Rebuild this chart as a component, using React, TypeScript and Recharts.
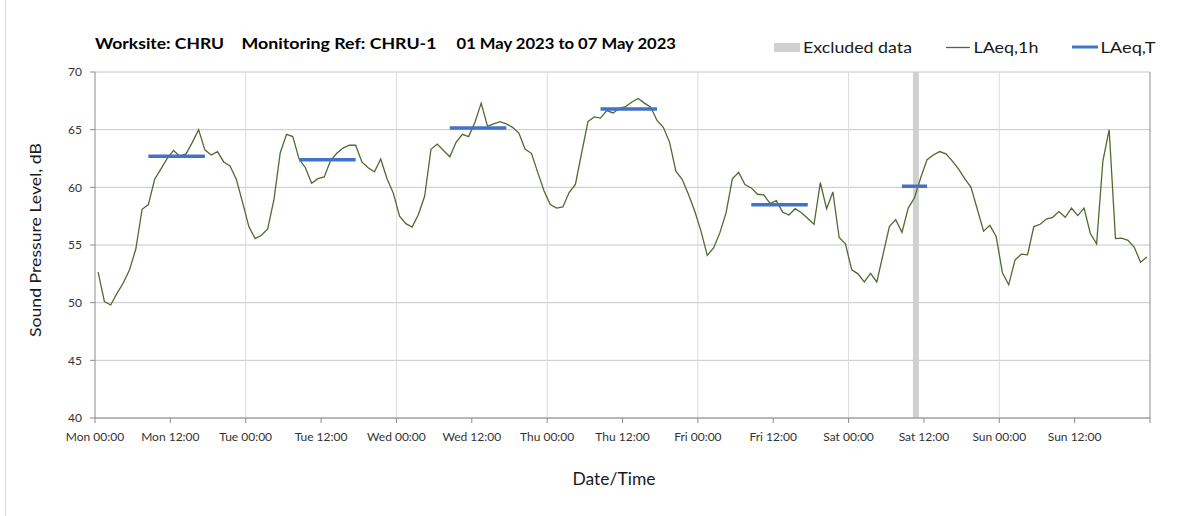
import React from 'react';
import {
  LineChart,
  Line,
  XAxis,
  YAxis,
  CartesianGrid,
  ReferenceLine,
  ReferenceArea,
} from 'recharts';

// Hourly LAeq,1h values, Mon 00:00 (hour 0) to Sun 23:00 (hour 167)
const laeq1h: number[] = [
  52.65, 50.1, 49.8, 50.8, 51.7, 52.85, 54.65, 58.1, 58.5, 60.7, 61.6, 62.5,
  63.2, 62.7, 62.9, 63.9, 65.0, 63.25, 62.8, 63.1, 62.2, 61.85, 60.7, 58.7,
  56.6, 55.55, 55.85, 56.4, 58.95, 63.0, 64.6, 64.4, 62.45, 61.7, 60.35, 60.75,
  60.9, 62.3, 62.95, 63.4, 63.65, 63.65, 62.2, 61.7, 61.35, 62.45, 60.75, 59.5,
  57.5, 56.85, 56.55, 57.65, 59.25, 63.3, 63.75, 63.2, 62.65, 63.9, 64.6, 64.4,
  65.65, 67.3, 65.3, 65.5, 65.7, 65.5, 65.2, 64.7, 63.3, 62.95, 61.3, 59.7,
  58.5, 58.2, 58.3, 59.55, 60.25, 63.0, 65.7, 66.1, 66.0, 66.65, 66.45, 66.85,
  67.0, 67.4, 67.7, 67.3, 66.95, 65.8, 65.2, 63.9, 61.4, 60.7, 59.4, 57.95,
  56.2, 54.1, 54.75, 56.05, 57.8, 60.75, 61.3, 60.25, 59.95, 59.4, 59.35, 58.6,
  58.85, 57.85, 57.6, 58.15, 57.8, 57.3, 56.8, 60.4, 58.15, 59.6, 55.65, 55.1,
  52.85, 52.5, 51.8, 52.55, 51.8, 54.2, 56.6, 57.2, 56.1, 58.2, 59.1, 60.85,
  62.4, 62.8, 63.1, 62.9, 62.3, 61.6, 60.75, 60.0, 58.1, 56.2, 56.7, 55.75,
  52.6, 51.55, 53.7, 54.2, 54.15, 56.6, 56.8, 57.25, 57.4, 57.9, 57.4, 58.2,
  57.55, 58.2, 56.0, 55.1, 62.3, 65.0, 55.55, 55.6, 55.4, 54.8, 53.5, 53.95,
];

// LAeq,T working periods (first hour, last hour, level)
const periodStart: number[] = [8, 32, 56, 80, 104, 128];
const periodEnd: number[] = [17, 41, 65, 89, 113, 132];
const periodLevel: number[] = [62.7, 62.4, 65.15, 66.8, 58.5, 60.1];

// Excluded data band (hours)
const excludedStart = 130.25;
const excludedEnd = 131.2;

// Axis ticks
const xTickHours: number[] = [0, 12, 24, 36, 48, 60, 72, 84, 96, 108, 120, 132, 144, 156, 168];
const xTickLabels: string[] = [
  'Mon 00:00', 'Mon 12:00', 'Tue 00:00', 'Tue 12:00', 'Wed 00:00', 'Wed 12:00',
  'Thu 00:00', 'Thu 12:00', 'Fri 00:00', 'Fri 12:00', 'Sat 00:00', 'Sat 12:00',
  'Sun 00:00', 'Sun 12:00', '',
];
const dayBoundaries: number[] = [24, 48, 72, 96, 120, 144];
const yTicks: number[] = [40, 45, 50, 55, 60, 65, 70];

const data = laeq1h.map((v, i) => {
  let t: number | null = null;
  for (let p = 0; p < periodStart.length; p++) {
    if (i >= periodStart[p] && i <= periodEnd[p]) t = periodLevel[p];
  }
  return { hour: i + 0.5, laeq1h: v, laeqT: t };
});

const FONT = 'Lato, "Open Sans", sans-serif';
const GREEN = '#4f6b2f';
const BLUE = '#4472c4';

export default function App() {
  return (
    <div
      style={{
        position: 'absolute',
        left: 0,
        top: 0,
        width: 1203,
        height: 516,
        background: '#ffffff',
        overflow: 'hidden',
        fontFamily: FONT,
      }}
    >
      <div
        style={{
          position: 'absolute',
          left: 5,
          top: 0,
          width: 0,
          height: 516,
          borderLeft: '1px solid #d9d9d9',
        }}
      />
      <div style={{ position: 'absolute', left: 0, top: 0 }}>
        <LineChart
          width={1203}
          height={516}
          data={data}
          margin={{ top: 72, right: 53, bottom: 38, left: 0 }}
        >
          <CartesianGrid vertical={false} stroke="#c6c6c6" strokeWidth={1} />
          {dayBoundaries.map((d) => (
            <ReferenceLine key={d} x={d} stroke="#dcdcdc" strokeWidth={1} />
          ))}
          <ReferenceLine x={168} stroke="#8c8c8c" strokeWidth={1} />
          <ReferenceArea
            x1={excludedStart}
            x2={excludedEnd}
            y1={40}
            y2={70}
            fill="#d0d0d0"
            fillOpacity={1}
            stroke="none"
          />
          <XAxis
            dataKey="hour"
            type="number"
            domain={[0, 168]}
            ticks={xTickHours}
            interval={0}
            tickFormatter={(v: number) => xTickLabels[xTickHours.indexOf(v)] ?? ''}
            height={60}
            tickSize={5}
            tickMargin={9}
            axisLine={{ stroke: '#8c8c8c' }}
            tickLine={{ stroke: '#8c8c8c' }}
            tick={{ fontSize: 12, fontFamily: FONT, fill: '#333333' }}
          />
          <YAxis
            type="number"
            domain={[40, 70]}
            ticks={yTicks}
            interval={0}
            width={95}
            tickSize={5}
            tickMargin={8}
            axisLine={{ stroke: '#8c8c8c' }}
            tickLine={{ stroke: '#8c8c8c' }}
            tick={{ fontSize: 12, fontFamily: FONT, fill: '#333333' }}
          />
          <Line
            type="linear"
            dataKey="laeq1h"
            stroke={GREEN}
            strokeWidth={1.3}
            dot={false}
            activeDot={false}
            isAnimationActive={false}
          />
          <Line
            type="linear"
            dataKey="laeqT"
            stroke={BLUE}
            strokeWidth={3.5}
            dot={false}
            activeDot={false}
            connectNulls={false}
            isAnimationActive={false}
          />
        </LineChart>
      </div>
      <svg
        width={1203}
        height={516}
        style={{ position: 'absolute', left: 0, top: 0, pointerEvents: 'none' }}
      >
        <g fontFamily={FONT} fontWeight="bold" fontSize={15.5} fill="#000">
          <text x={95} y={49} textLength={129} lengthAdjust="spacingAndGlyphs">Worksite: CHRU</text>
          <text x={241.5} y={49} textLength={195} lengthAdjust="spacingAndGlyphs">Monitoring Ref: CHRU-1</text>
          <text x={456.5} y={49} textLength={219.5} lengthAdjust="spacingAndGlyphs">01 May 2023 to 07 May 2023</text>
        </g>
        <g fontFamily={FONT} fontSize={16} fill="#1a1a1a">
          <rect x={774} y={43} width={26} height={9} fill="#d0d0d0" />
          <text x={803} y={53} textLength={109} lengthAdjust="spacingAndGlyphs">Excluded data</text>
          <line x1={946} y1={47.5} x2={970} y2={47.5} stroke={GREEN} strokeWidth={1.3} />
          <text x={973.5} y={53} textLength={65} lengthAdjust="spacingAndGlyphs">LAeq,1h</text>
          <line x1={1072} y1={47} x2={1098} y2={47} stroke={BLUE} strokeWidth={3} />
          <text x={1100.5} y={53} textLength={55} lengthAdjust="spacingAndGlyphs">LAeq,T</text>
        </g>
        <text
          x={0}
          y={0}
          transform="translate(41, 240) rotate(-90)"
          textAnchor="middle"
          fontFamily={FONT}
          fontSize={16}
          fill="#1a1a1a"
          textLength={194}
          lengthAdjust="spacingAndGlyphs"
        >
          Sound Pressure Level, dB
        </text>
        <text
          x={614}
          y={485}
          textAnchor="middle"
          fontFamily={FONT}
          fontSize={17}
          fill="#1a1a1a"
          textLength={83}
          lengthAdjust="spacingAndGlyphs"
        >
          Date/Time
        </text>
      </svg>
    </div>
  );
}
